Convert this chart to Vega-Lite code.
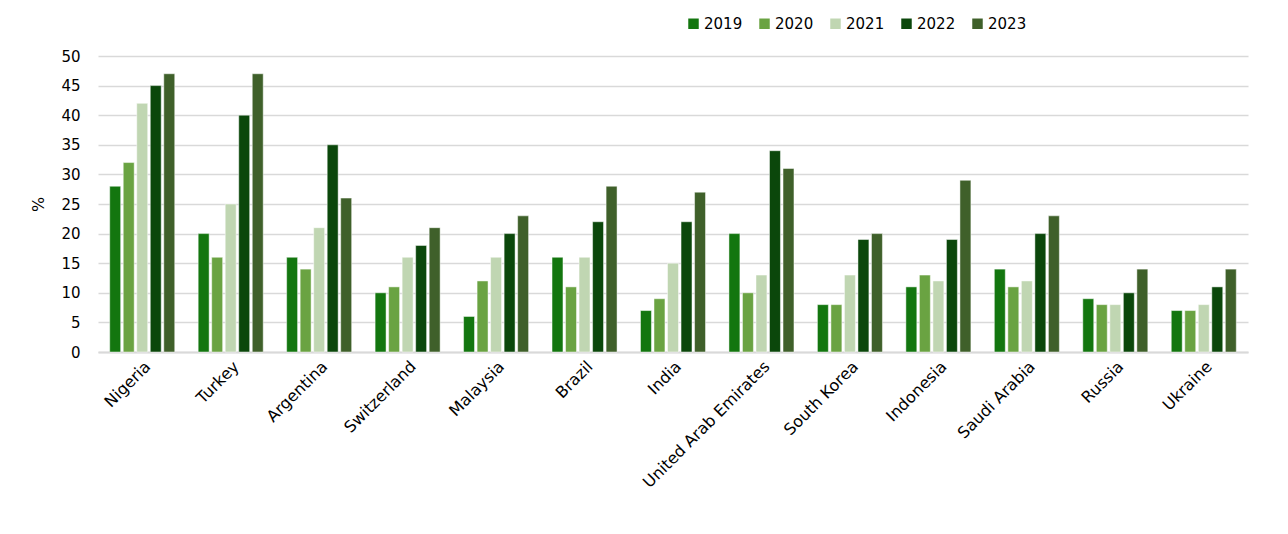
{
  "$schema": "https://vega.github.io/schema/vega-lite/v6.json",
  "width": 1150,
  "height": 296,
  "autosize": "none",
  "padding": {"left": 98, "top": 56, "right": 40, "bottom": 182},
  "background": "white",
  "config": {
    "font": "DejaVu Sans",
    "view": {"stroke": null}
  },
  "data": {
    "values": [
      {"country": "Nigeria", "year": "2019", "value": 28},
      {"country": "Nigeria", "year": "2020", "value": 32},
      {"country": "Nigeria", "year": "2021", "value": 42},
      {"country": "Nigeria", "year": "2022", "value": 45},
      {"country": "Nigeria", "year": "2023", "value": 47},
      {"country": "Turkey", "year": "2019", "value": 20},
      {"country": "Turkey", "year": "2020", "value": 16},
      {"country": "Turkey", "year": "2021", "value": 25},
      {"country": "Turkey", "year": "2022", "value": 40},
      {"country": "Turkey", "year": "2023", "value": 47},
      {"country": "Argentina", "year": "2019", "value": 16},
      {"country": "Argentina", "year": "2020", "value": 14},
      {"country": "Argentina", "year": "2021", "value": 21},
      {"country": "Argentina", "year": "2022", "value": 35},
      {"country": "Argentina", "year": "2023", "value": 26},
      {"country": "Switzerland", "year": "2019", "value": 10},
      {"country": "Switzerland", "year": "2020", "value": 11},
      {"country": "Switzerland", "year": "2021", "value": 16},
      {"country": "Switzerland", "year": "2022", "value": 18},
      {"country": "Switzerland", "year": "2023", "value": 21},
      {"country": "Malaysia", "year": "2019", "value": 6},
      {"country": "Malaysia", "year": "2020", "value": 12},
      {"country": "Malaysia", "year": "2021", "value": 16},
      {"country": "Malaysia", "year": "2022", "value": 20},
      {"country": "Malaysia", "year": "2023", "value": 23},
      {"country": "Brazil", "year": "2019", "value": 16},
      {"country": "Brazil", "year": "2020", "value": 11},
      {"country": "Brazil", "year": "2021", "value": 16},
      {"country": "Brazil", "year": "2022", "value": 22},
      {"country": "Brazil", "year": "2023", "value": 28},
      {"country": "India", "year": "2019", "value": 7},
      {"country": "India", "year": "2020", "value": 9},
      {"country": "India", "year": "2021", "value": 15},
      {"country": "India", "year": "2022", "value": 22},
      {"country": "India", "year": "2023", "value": 27},
      {"country": "United Arab Emirates", "year": "2019", "value": 20},
      {"country": "United Arab Emirates", "year": "2020", "value": 10},
      {"country": "United Arab Emirates", "year": "2021", "value": 13},
      {"country": "United Arab Emirates", "year": "2022", "value": 34},
      {"country": "United Arab Emirates", "year": "2023", "value": 31},
      {"country": "South Korea", "year": "2019", "value": 8},
      {"country": "South Korea", "year": "2020", "value": 8},
      {"country": "South Korea", "year": "2021", "value": 13},
      {"country": "South Korea", "year": "2022", "value": 19},
      {"country": "South Korea", "year": "2023", "value": 20},
      {"country": "Indonesia", "year": "2019", "value": 11},
      {"country": "Indonesia", "year": "2020", "value": 13},
      {"country": "Indonesia", "year": "2021", "value": 12},
      {"country": "Indonesia", "year": "2022", "value": 19},
      {"country": "Indonesia", "year": "2023", "value": 29},
      {"country": "Saudi Arabia", "year": "2019", "value": 14},
      {"country": "Saudi Arabia", "year": "2020", "value": 11},
      {"country": "Saudi Arabia", "year": "2021", "value": 12},
      {"country": "Saudi Arabia", "year": "2022", "value": 20},
      {"country": "Saudi Arabia", "year": "2023", "value": 23},
      {"country": "Russia", "year": "2019", "value": 9},
      {"country": "Russia", "year": "2020", "value": 8},
      {"country": "Russia", "year": "2021", "value": 8},
      {"country": "Russia", "year": "2022", "value": 10},
      {"country": "Russia", "year": "2023", "value": 14},
      {"country": "Ukraine", "year": "2019", "value": 7},
      {"country": "Ukraine", "year": "2020", "value": 7},
      {"country": "Ukraine", "year": "2021", "value": 8},
      {"country": "Ukraine", "year": "2022", "value": 11},
      {"country": "Ukraine", "year": "2023", "value": 14}
    ]
  },
  "mark": {"type": "bar", "stroke": "#ffffff", "strokeWidth": 0.8, "strokeOpacity": 0.6},
  "encoding": {
    "x": {
      "field": "country",
      "type": "nominal",
      "sort": null,
      "scale": {"paddingInner": 0.265, "paddingOuter": 0.1325},
      "axis": {
        "title": null,
        "labelAngle": -45,
        "labelFontSize": 16,
        "labelColor": "#000000",
        "labelPadding": 6,
        "ticks": false,
        "domain": true,
        "domainColor": "#d9d9d9",
        "domainWidth": 2
      }
    },
    "xOffset": {
      "field": "year",
      "type": "nominal",
      "scale": {"paddingInner": 0.19, "paddingOuter": 0}
    },
    "y": {
      "field": "value",
      "type": "quantitative",
      "scale": {"domain": [0, 50], "nice": false},
      "axis": {
        "title": "%",
        "titleFontSize": 16,
        "titleFontWeight": "normal",
        "titleColor": "#000000",
        "titlePadding": 14,
        "values": [0, 5, 10, 15, 20, 25, 30, 35, 40, 45, 50],
        "labelFontSize": 15,
        "labelColor": "#000000",
        "labelPadding": 18,
        "ticks": false,
        "domain": false,
        "grid": true,
        "gridColor": "#d9d9d9",
        "gridWidth": 1.5
      }
    },
    "color": {
      "field": "year",
      "type": "nominal",
      "scale": {
        "domain": ["2019", "2020", "2021", "2022", "2023"],
        "range": ["#13760f", "#6aa342", "#c0d6b2", "#0b470b", "#3f602a"]
      },
      "legend": {
        "title": null,
        "orient": "none",
        "direction": "horizontal",
        "legendX": 588,
        "legendY": -40,
        "columns": 5,
        "columnPadding": 14,
        "padding": 0,
        "symbolType": "square",
        "symbolSize": 110,
        "symbolStrokeWidth": 0,
        "symbolOpacity": 1,
        "labelFontSize": 15,
        "labelColor": "#000000",
        "labelOffset": 3
      }
    }
  }
}
